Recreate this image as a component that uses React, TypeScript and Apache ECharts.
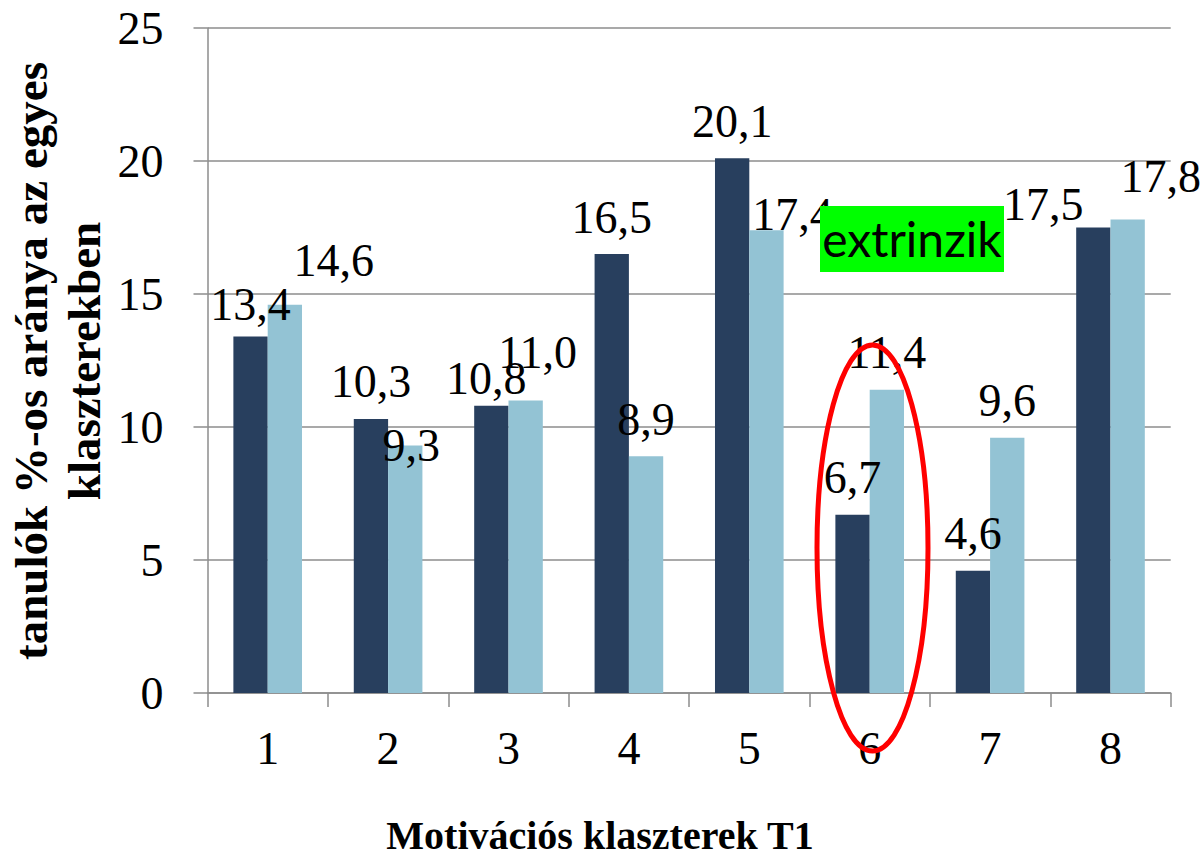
import React, { useEffect, useRef } from "react";
import * as echarts from "echarts";

const categories = ["1", "2", "3", "4", "5", "6", "7", "8"];
const darkValues = [13.4, 10.3, 10.8, 16.5, 20.1, 6.7, 4.6, 17.5];
const lightValues = [14.6, 9.3, 11.0, 8.9, 17.4, 11.4, 9.6, 17.8];
const yTicks = [0, 5, 10, 15, 20, 25];

// label nudges (px) as placed in the original
const darkLabelShift = [[0, 5], [0, -1], [-5, 10], [0, 0], [0, 0], [0, 0], [0, 0], [-50, 14]];
const lightLabelShift = [[49, -7], [6, 37], [12, -11], [0, 0], [26, 21], [0, 0], [0, 0], [33, -6]];

const SERIF = '"Liberation Serif", "Times New Roman", serif';

export default function App() {
  const ref = useRef<HTMLDivElement>(null);
  useEffect(() => {
    document.body.style.margin = "0";
    if (!ref.current) return;
    const chart = echarts.init(ref.current, null, { renderer: "svg" });
    const labelBase = {
      show: true,
      position: "top",
      distance: 14,
      fontSize: 46,
      lineHeight: 46,
      fontFamily: SERIF,
      color: "#000",
      formatter: (p: any) => Number(p.value).toFixed(1).replace(".", ","),
    };
    chart.setOption({
      animation: false,
      backgroundColor: "#fff",
      grid: { left: 207.5, right: 32.3, top: 28, bottom: 169, containLabel: false },
      xAxis: {
        type: "category",
        data: categories,
        axisLine: { lineStyle: { color: "#8c8c8c", width: 1.5 } },
        axisTick: { show: true, length: 14, lineStyle: { color: "#8c8c8c", width: 1.5 } },
        axisLabel: { fontSize: 46, lineHeight: 46, fontFamily: SERIF, color: "#000", margin: 32 },
        splitLine: { show: false },
      },
      yAxis: {
        type: "value",
        min: yTicks[0],
        max: yTicks[yTicks.length - 1],
        interval: 5,
        axisLine: { show: true, lineStyle: { color: "#8c8c8c", width: 1.5 } },
        axisTick: { show: true, length: 14, lineStyle: { color: "#8c8c8c", width: 1.5 } },
        axisLabel: { fontSize: 46, fontFamily: SERIF, color: "#000", margin: 44 },
        splitLine: { show: true, lineStyle: { color: "#8c8c8c", width: 1.5 } },
      },
      series: [
        {
          type: "bar",
          name: "A",
          barGap: "0%",
          barCategoryGap: "43%",
          itemStyle: { color: "#283F5E" },
          label: labelBase,
          data: darkValues.map((v, i) => ({ value: v, label: { offset: darkLabelShift[i] } })),
        },
        {
          type: "bar",
          name: "B",
          barGap: "0%",
          barCategoryGap: "43%",
          itemStyle: { color: "#93C3D4" },
          label: labelBase,
          data: lightValues.map((v, i) => ({ value: v, label: { offset: lightLabelShift[i] } })),
        },
      ],
      graphic: [
        {
          type: "text",
          x: 57.5,
          y: 361,
          rotation: Math.PI / 2,
          z: 100,
          style: {
            text: "tanulók %-os aránya az egyes\nklaszterekben",
            fontFamily: SERIF,
            fontWeight: "bold",
            fontSize: 47,
            lineHeight: 53,
            align: "center",
            verticalAlign: "middle",
            fill: "#000",
          },
        },
        {
          type: "text",
          x: 600,
          y: 835.5,
          z: 100,
          style: {
            text: "Motivációs klaszterek T1",
            fontFamily: SERIF,
            fontWeight: "bold",
            fontSize: 40,
            align: "center",
            verticalAlign: "middle",
            fill: "#000",
          },
        },
        {
          type: "rect",
          z: 100,
          shape: { x: 820, y: 206, width: 184, height: 66 },
          style: { fill: "#00FF00" },
        },
        {
          type: "text",
          x: 912,
          y: 238.5,
          z: 101,
          style: {
            text: "extrinzik",
            fontFamily: "Lato, sans-serif",
            fontSize: 48,
            align: "center",
            verticalAlign: "middle",
            fill: "#000",
          },
        },
        {
          type: "ellipse",
          z: 102,
          shape: { cx: 872.5, cy: 548, rx: 55.5, ry: 203 },
          style: { fill: null, stroke: "#FF0000", lineWidth: 5 },
        },
      ],
    });
    return () => chart.dispose();
  }, []);
  return <div ref={ref} style={{ width: 1203, height: 862 }} />;
}
